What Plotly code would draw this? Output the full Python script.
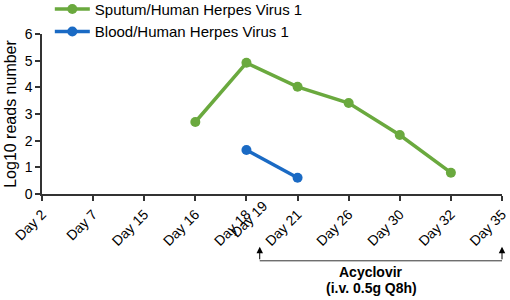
import plotly.graph_objects as go

days = ["Day 2", "Day 7", "Day 15", "Day 16", "Day 18", "Day 21", "Day 26", "Day 30", "Day 32", "Day 35"]
sputum_days = ["Day 16", "Day 18", "Day 21", "Day 26", "Day 30", "Day 32"]
sputum_vals = [2.7, 4.92, 4.02, 3.41, 2.21, 0.8]
blood_days = ["Day 18", "Day 21"]
blood_vals = [1.65, 0.61]
extra_label = "Day 19"
yticks = [0, 1, 2, 3, 4, 5, 6]

pos = {d: i for i, d in enumerate(days)}
day19_label_pos = pos["Day 18"] + 0.33
treat_start = pos["Day 18"] + 0.26
treat_end = pos["Day 35"]

green = "#6AA93E"
blue = "#1A6AC4"
axis_col = "#333333"

fig = go.Figure()
fig.add_trace(go.Scatter(
    x=[pos[d] for d in sputum_days], y=sputum_vals, mode="lines+markers",
    name="Sputum/Human Herpes Virus 1",
    line=dict(color=green, width=3.5), marker=dict(color=green, size=10)))
fig.add_trace(go.Scatter(
    x=[pos[d] for d in blood_days], y=blood_vals, mode="lines+markers",
    name="Blood/Human Herpes Virus 1",
    line=dict(color=blue, width=3.5), marker=dict(color=blue, size=10)))

font = "Arial, Liberation Sans, sans-serif"
fig.update_layout(
    width=510, height=300,
    margin=dict(l=42, r=8, t=34, b=106, autoexpand=False),
    paper_bgcolor="white", plot_bgcolor="white",
    font=dict(family=font, color="black"),
    showlegend=True,
    legend=dict(x=0.017, y=1.258, xanchor="left", yanchor="top",
                font=dict(size=15, family=font), bgcolor="rgba(0,0,0,0)",
                tracegroupgap=0, itemwidth=35),
    xaxis=dict(range=[0, len(days) - 1], tickmode="array",
               tickvals=list(range(len(days))), ticktext=days,
               tickangle=-45, tickfont=dict(size=14), automargin=False,
               showgrid=False, zeroline=False, showline=True,
               linecolor=axis_col, linewidth=1.5,
               ticks="outside", ticklen=5, tickcolor=axis_col, tickwidth=1.5),
    xaxis2=dict(range=[0, len(days) - 1], overlaying="x", side="bottom",
                anchor="y", tickmode="array", tickvals=[day19_label_pos],
                ticktext=[extra_label], tickangle=-45, tickfont=dict(size=14),
                showgrid=False, zeroline=False, showline=False, ticks="",
                ticklen=5, automargin=False),
    yaxis=dict(range=[0, 6], tickvals=yticks, tickfont=dict(size=14),
               showgrid=False, zeroline=False, showline=True, automargin=False,
               linecolor=axis_col, linewidth=1.5,
               ticks="outside", ticklen=5, tickcolor=axis_col, tickwidth=1.5,
               title=dict(text="Log10 reads number", font=dict(size=16), standoff=4)),
)
fig.add_trace(go.Scatter(x=[day19_label_pos], y=[None], xaxis="x2", showlegend=False,
                         hoverinfo="skip"))

y_line = -0.4175
fig.add_shape(type="line", xref="x", yref="paper", x0=treat_start, x1=treat_end,
              y0=y_line, y1=y_line, line=dict(color=axis_col, width=1))
for xp in [treat_start, treat_end]:
    fig.add_annotation(x=xp, y=-0.33, xref="x", yref="paper", text="",
                       showarrow=True, ax=0, ay=14, arrowhead=2, arrowsize=1.3,
                       arrowwidth=1, arrowcolor="black")
text_x = pos["Day 26"] + 0.44
fig.add_annotation(x=text_x, y=-0.49, xref="x", yref="paper", yanchor="middle",
                   text="<b>Acyclovir</b>", showarrow=False,
                   font=dict(size=14, family=font))
fig.add_annotation(x=text_x, y=-0.585, xref="x", yref="paper", yanchor="middle",
                   text="<b>(i.v. 0.5g Q8h)</b>", showarrow=False,
                   font=dict(size=14, family=font))

fig.write_html("out.html", config={"displayModeBar": False},
               post_script="document.body.style.margin='0';document.body.style.overflow='hidden';")
